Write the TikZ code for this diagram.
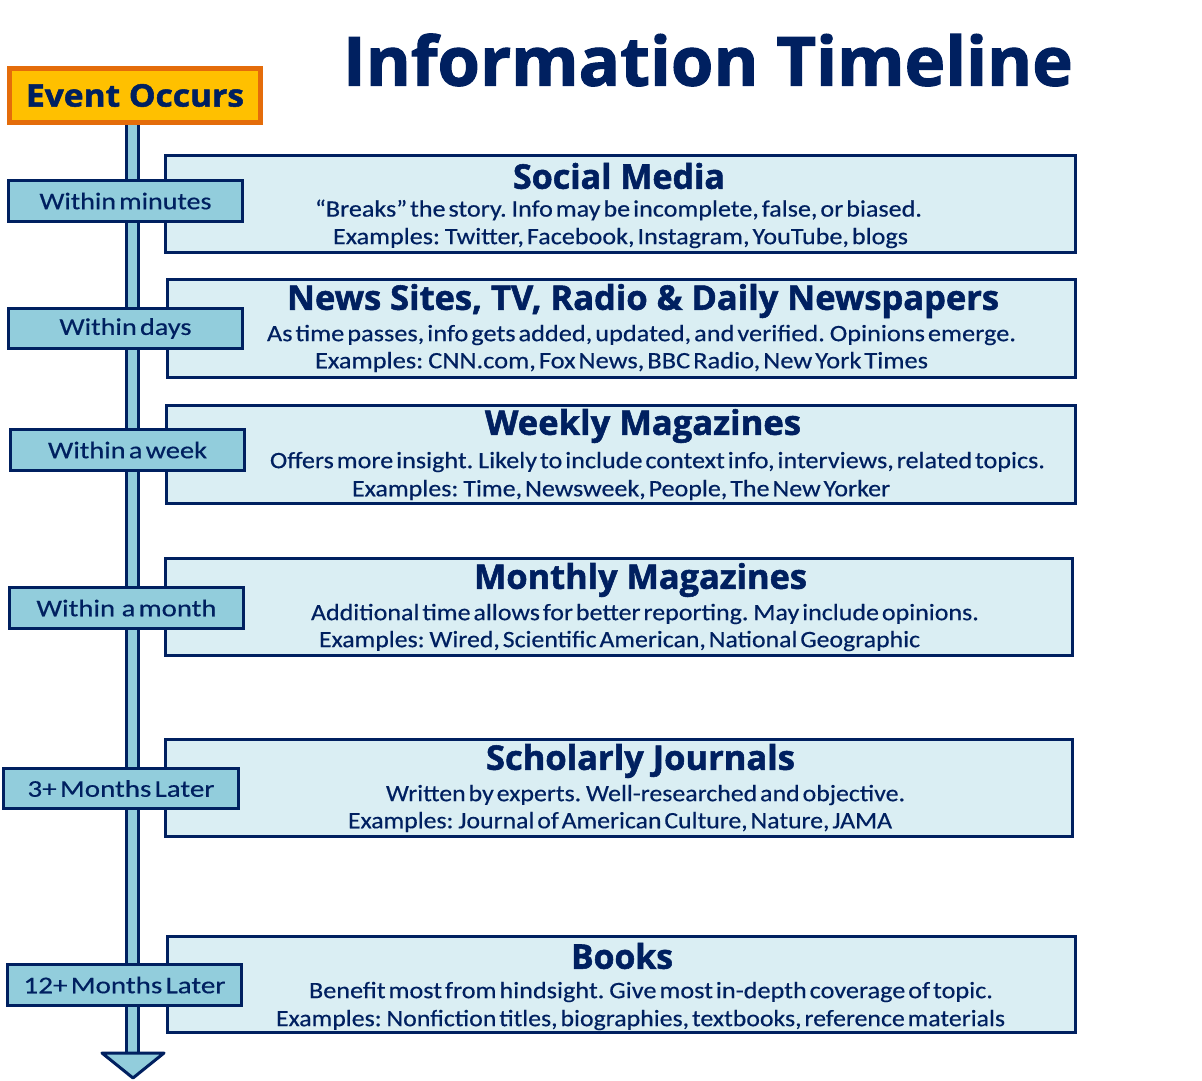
\documentclass[tikz,border=0pt]{standalone}
\usepackage{fontspec}
\setmainfont{Carlito}[WordSpace=0.5,FakeBold=0.4]
\newfontfamily\hfont{Open Sans}[BoldFeatures={FakeBold=1.6}]
\usetikzlibrary{calc}
\definecolor{navy}{HTML}{002060}
\definecolor{lblue}{HTML}{92CDDC}
\definecolor{pale}{HTML}{DAEEF3}
\definecolor{gold}{HTML}{FFC000}
\definecolor{orng}{HTML}{E46C0A}
\newcommand\fw[2]{\resizebox{#1pt}{\height}{#2}}
\begin{document}
\begin{tikzpicture}[x=1pt,y=-1pt,
  ctbox/.style={draw=navy,fill=pale,line width=3pt,inner sep=0pt},
  lbl/.style={draw=navy,fill=lblue,line width=3.5pt,inner sep=0pt,text=navy,font=\fontsize{24}{28}\selectfont},
  evbox/.style={draw=orng,fill=gold,line width=5pt,inner sep=0pt,text=navy,font=\hfont\bfseries\fontsize{31}{36}\selectfont},
  body/.style={inner sep=0pt,text=navy,font=\fontsize{23.5}{27}\selectfont},
  head/.style={inner sep=0pt,text=navy,font=\hfont\bfseries\fontsize{34}{38}\selectfont},
  maintitle/.style={inner sep=0pt,text=navy,font=\hfont\bfseries\fontsize{68}{80}\selectfont}]
\useasboundingbox[fill=white] (0,0) rectangle (1202,1081);

% title
\node[maintitle] (title) at (708,60) {\fw{730}{Information Timeline}};

% event box and shaft
\node[evbox,minimum width=251pt,minimum height=54pt] (ev) at (135,95.5) {};
\coordinate (shaftend) at (132,1053);
\coordinate (tip) at (133,1078);
\draw[draw=navy,line width=3pt,double=lblue,double distance=9pt] (132,125) -- (shaftend);
\draw[draw=navy,fill=lblue,line width=3pt,line join=round] ($(shaftend)+(-30,0)$) -- ($(shaftend)+(32,0)$) -- (tip) -- cycle;
\node[evbox,minimum width=251pt,minimum height=54pt] (ev2) at (135,95.5) {\fw{218}{Event Occurs}};

% content boxes
\node[ctbox,minimum width=910pt,minimum height=97pt] (b1) at (620.5,204) {};
\node[ctbox,minimum width=908pt,minimum height=98pt] (b2) at (621.5,328.5) {};
\node[ctbox,minimum width=909pt,minimum height=98pt] (b3) at (621,454.5) {};
\node[ctbox,minimum width=907pt,minimum height=97pt] (b4) at (619,607) {};
\node[ctbox,minimum width=907pt,minimum height=97pt] (b5) at (619,788) {};
\node[ctbox,minimum width=908pt,minimum height=96pt] (b6) at (621.5,984.5) {};

% labels
\node[lbl,minimum width=234pt,minimum height=41pt] (l1) at (125.5,201) {\fw{172}{Within minutes}};
\node[lbl,minimum width=234pt,minimum height=40pt] (l2) at (125.5,328.5) {\fw{132}{Within days}};
\node[lbl,minimum width=234pt,minimum height=41pt] (l3) at (127.5,450) {\fw{159}{Within a week}};
\node[lbl,minimum width=234pt,minimum height=41pt] (l4) at (126.5,608) {\fw{180}{Within\ \ a month}};
\node[lbl,minimum width=235pt,minimum height=40pt] (l5) at (121,788.5) {\fw{187}{3+ Months Later}};
\node[lbl,minimum width=234pt,minimum height=41pt] (l6) at (124.5,985) {\fw{202}{12+ Months Later}};

% texts
\node[head] (t1) at (619,176) {\fw{212}{Social Media}};
\node[body] (t1a) at (618.5,210) {\fw{607}{“Breaks” the story. Info may be incomplete, false, or biased.}};
\node[body] (t1b) at (620.5,238) {\fw{575}{Examples: Twitter, Facebook, Instagram, YouTube, blogs}};

\node[head] (t2) at (643,301) {\fw{712}{News Sites, TV, Radio \& Daily Newspapers}};
\node[body] (t2a) at (641.5,335) {\fw{749}{As time passes, info gets added, updated, and verified. Opinions emerge.}};
\node[body] (t2b) at (621.5,362) {\fw{613}{Examples: CNN.com, Fox News, BBC Radio, New York Times}};

\node[head] (t3) at (643,426) {\fw{316}{Weekly Magazines}};
\node[body] (t3a) at (657.5,462) {\fw{775}{Offers more insight. Likely to include context info, interviews, related topics.}};
\node[body] (t3b) at (621,490) {\fw{538}{Examples: Time, Newsweek, People, The New Yorker}};

\node[head] (t4) at (640.5,580) {\fw{333}{Monthly Magazines}};
\node[body] (t4a) at (645,614) {\fw{668}{Additional time allows for better reporting. May include opinions.}};
\node[body] (t4b) at (619.5,641) {\fw{601}{Examples: Wired, Scientific American, National Geographic}};

\node[head] (t5) at (640.5,761) {\fw{309}{Scholarly Journals}};
\node[body] (t5a) at (645.5,795) {\fw{519}{Written by experts. Well-researched and objective.}};
\node[body] (t5b) at (620,822) {\fw{544}{Examples: Journal of American Culture, Nature, JAMA}};

\node[head] (t6) at (622,956) {\fw{102}{Books}};
\node[body] (t6a) at (651,992) {\fw{684}{Benefit most from hindsight. Give most in-depth coverage of topic.}};
\node[body] (t6b) at (640.5,1020) {\fw{729}{Examples: Nonfiction titles, biographies, textbooks, reference materials}};
\end{tikzpicture}
\end{document}
